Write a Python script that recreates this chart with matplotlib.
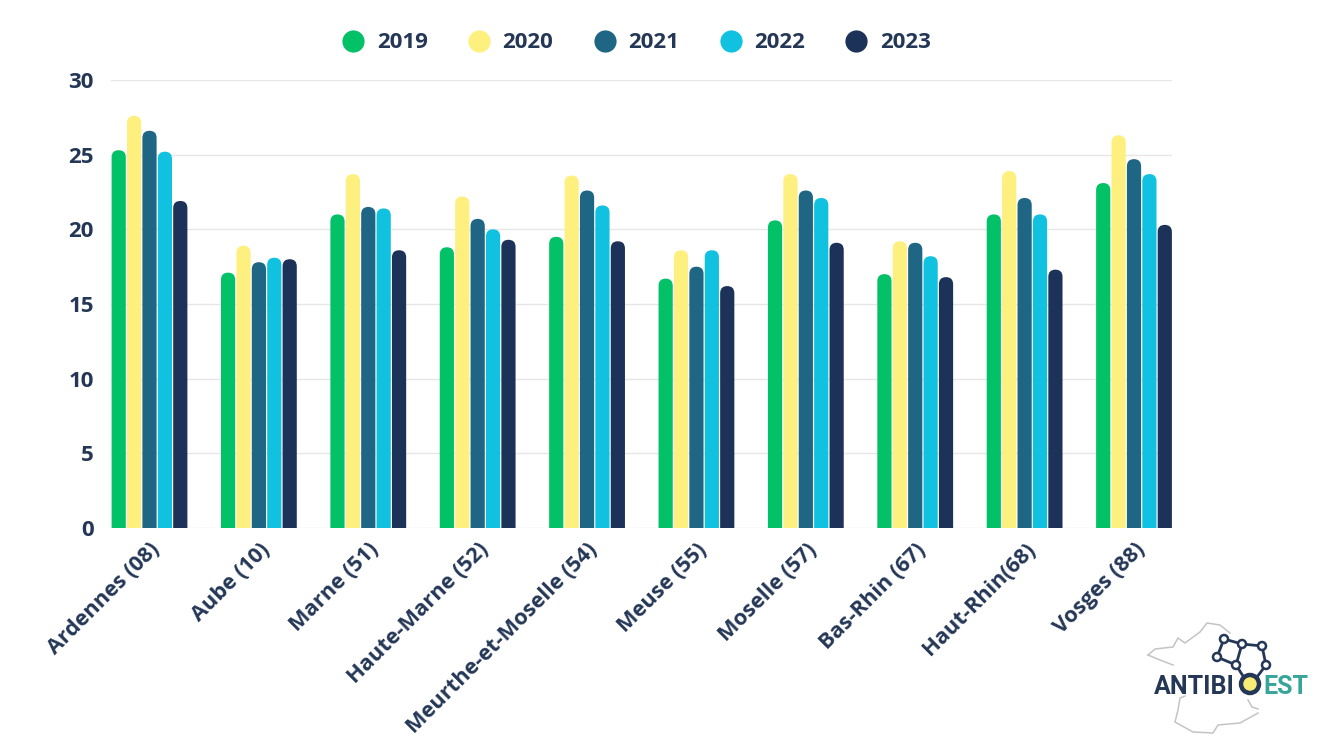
import matplotlib
matplotlib.use("Agg")
import matplotlib.pyplot as plt
from matplotlib.patches import FancyBboxPatch, Circle
from matplotlib.lines import Line2D

plt.rcParams['font.family'] = ['Open Sans', 'DejaVu Sans']

departments = ["Ardennes (08)", "Aube (10)", "Marne (51)", "Haute-Marne (52)",
               "Meurthe-et-Moselle (54)", "Meuse (55)", "Moselle (57)",
               "Bas-Rhin (67)", "Haut-Rhin(68)", "Vosges (88)"]
years = ["2019", "2020", "2021", "2022", "2023"]
v2019 = [25.3, 17.1, 21.0, 18.8, 19.5, 16.7, 20.6, 17.0, 21.0, 23.1]
v2020 = [27.6, 18.9, 23.7, 22.2, 23.6, 18.6, 23.7, 19.2, 23.9, 26.3]
v2021 = [26.6, 17.8, 21.5, 20.7, 22.6, 17.5, 22.6, 19.1, 22.1, 24.7]
v2022 = [25.2, 18.1, 21.4, 20.0, 21.6, 18.6, 22.1, 18.2, 21.0, 23.7]
v2023 = [21.9, 18.0, 18.6, 19.3, 19.2, 16.2, 19.1, 16.8, 17.3, 20.3]
series = [v2019, v2020, v2021, v2022, v2023]
colors = ["#03c167", "#fdf07f", "#1f6684", "#10c1e0", "#1c3258"]
navy = "#243756"

W, H = 1320, 743
fig = plt.figure(figsize=(W / 100, H / 100), dpi=100)
ax = fig.add_axes([111 / W, 1 - 528 / H, (1172 - 111) / W, (528 - 80) / H])

# x axis is in group units, the y rounding has to be scaled to stay circular
px_x = 109.4
px_y = (528 - 80) / 30
step = 15.4 / px_x
width = 14.2 / px_x
radius = 7.1 / px_x

for s, (vals, col) in enumerate(zip(series, colors)):
    for i, v in enumerate(vals):
        x = i + (s - 2) * step - width / 2
        # starts below zero so the lower rounding is clipped away
        box = FancyBboxPatch((x, -2), width, v + 2,
                             boxstyle=f"round,pad=0,rounding_size={radius}",
                             mutation_aspect=px_x / px_y,
                             fc=col, ec="none", zorder=3)
        ax.add_patch(box)

ax.set_xlim(-38.5 / px_x, 9 + 38.0 / px_x)
ax.set_ylim(0, 30)
ax.set_yticks(range(0, 31, 5))
ax.set_xticks(range(len(departments)))
ax.set_xticklabels(departments, rotation=45, ha="right", va="top", rotation_mode="anchor")
ax.tick_params(axis="both", length=0, labelcolor=navy)
ax.tick_params(axis="x", pad=8, labelsize=15.7)
ax.tick_params(axis="y", pad=12.3, labelsize=16)
for lab in ax.get_xticklabels() + ax.get_yticklabels():
    lab.set_fontweight("bold")
ax.grid(axis="y", color="#e6e6e6", lw=1)
ax.set_axisbelow(True)
for side in ["top", "right", "left", "bottom"]:
    ax.spines[side].set_visible(False)

handles = [Line2D([], [], ls="none", marker="o", ms=16, mfc=c, mec="none") for c in colors]
fig.legend(handles, years, loc="center", bbox_to_anchor=(636.5 / W, 1 - 43 / H), ncol=5,
           frameon=False, handlelength=1, handletextpad=0.55, columnspacing=1.82,
           prop={"size": 16, "weight": "bold"}, labelcolor=navy)

# logo, drawn in pixel coordinates
logo = fig.add_axes([0, 0, 1, 1], zorder=5)
logo.set_xlim(0, W)
logo.set_ylim(H, 0)
logo.axis("off")
logo.patch.set_alpha(0)
map_a = [(1148, 655), (1155, 649), (1173, 647), (1178, 638), (1185, 643), (1200, 632), (1207, 623),
         (1220, 625), (1230, 633)]
map_b = [(1185, 696), (1180, 698), (1178, 710), (1175, 722), (1193, 732), (1213, 733), (1218, 725),
         (1240, 723), (1258, 713)]
map_c = [(1148, 655), (1160, 660), (1173, 665)]
map_d = [(1248, 700), (1252, 707), (1258, 709)]
for part in (map_a, map_b, map_c, map_d):
    logo.plot(*zip(*part), color="#c4c4c4", lw=1.1)
nodes = [(1224, 639), (1242, 644), (1262, 646), (1266, 665), (1236, 665), (1217, 657)]
links = [(0, 1), (1, 2), (2, 3), (1, 4), (4, 5), (5, 0)]
for a, b in links:
    logo.plot([nodes[a][0], nodes[b][0]], [nodes[a][1], nodes[b][1]], color=navy, lw=2)
logo.plot([1266, 1257], [665, 677], color=navy, lw=2)
logo.plot([1236, 1243], [665, 676], color=navy, lw=2)
for n in nodes:
    logo.add_patch(Circle(n, 4, fc="white", ec=navy, lw=1.8, zorder=6))
logo.text(1154, 684, "ANTIBI", color=navy, fontsize=18, fontweight="bold", family="Roboto", va="center_baseline")
logo.add_patch(Circle((1250, 684), 9, fc="#f8ec74", ec=navy, lw=3.2, zorder=6))
logo.text(1263, 684, "EST", color="#37a59a", fontsize=18, fontweight="bold", family="Roboto", va="center_baseline")

fig.savefig("out.png", dpi=100)
